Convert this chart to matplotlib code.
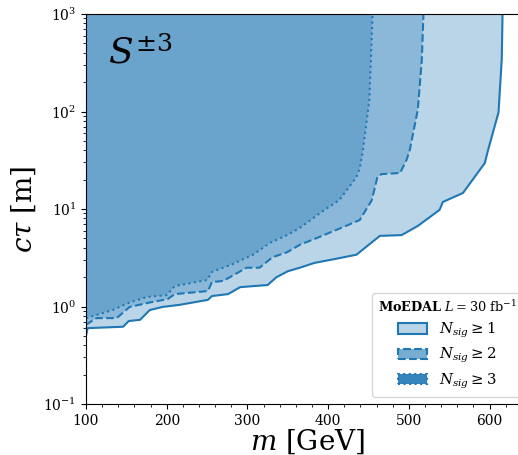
import numpy as np
import matplotlib
matplotlib.use('Agg')
import matplotlib.pyplot as plt
from matplotlib.patches import Patch

plt.rcParams['font.family'] = 'DejaVu Serif'
plt.rcParams['mathtext.fontset'] = 'dejavuserif'

# contour N_sig >= 1 (solid)
m1 = [100, 102, 146, 153, 167, 179, 195, 216, 251, 256, 276, 291, 325, 336, 350, 365,
      383, 411, 435, 464, 491, 511, 538, 542, 567, 594, 598, 611, 615, 616]
ct1 = [0.5, 0.6, 0.62, 0.71, 0.73, 0.92, 0.99, 1.04, 1.17, 1.28, 1.34, 1.58, 1.66, 2.0, 2.3, 2.5,
       2.8, 3.1, 3.4, 5.3, 5.4, 6.7, 9.8, 11.8, 14.6, 29.6, 40, 98, 340, 1000]

# contour N_sig >= 2 (dashed)
m2 = [100, 113, 138, 154, 179, 201, 210, 251, 256, 270, 299, 315, 331, 349, 365,
      390, 418, 439, 454, 461, 466, 489, 497, 501, 511, 516, 518]
ct2 = [0.65, 0.76, 0.76, 0.99, 1.1, 1.19, 1.34, 1.44, 1.78, 1.83, 2.5, 2.5, 3.2, 3.6, 4.3,
       5.2, 6.5, 7.7, 12.3, 21.3, 22.8, 23.4, 31.8, 40, 104, 340, 1000]

# contour N_sig >= 3 (dotted)
m3 = [100, 133, 154, 175, 200, 210, 250, 256, 282, 307, 328, 349, 365,
      390, 414, 435, 439, 441, 443, 451, 455]
ct3 = [0.76, 0.92, 1.1, 1.25, 1.31, 1.62, 1.87, 2.26, 2.73, 3.4, 4.5, 5.4, 6.4,
       9.1, 12.4, 21.3, 26, 32, 40, 130, 1000]

contours = [(m1, ct1, '-'), (m2, ct2, '--'), (m3, ct3, ':')]
labels = [r'$N_{sig} \geq 1$', r'$N_{sig} \geq 2$', r'$N_{sig} \geq 3$']

fig = plt.figure(figsize=(5.18, 4.55), dpi=100)
ax = fig.add_axes([86 / 518, 51 / 455, 444 / 518, 390 / 455])

for m, ct, ls in contours:
    xs = list(m) + [100]
    ys = list(ct) + [1000]
    ax.fill(xs, ys, color='tab:blue', alpha=0.3, lw=0)
    ax.plot(m, ct, color='tab:blue', ls=ls, lw=1.5)

ax.set_yscale('log')
ax.set_xlim(100, 650)
ax.set_ylim(0.1, 1000)
ax.set_xticks([100, 200, 300, 400, 500, 600])
ax.xaxis.set_minor_locator(matplotlib.ticker.MultipleLocator(20))
ax.tick_params(labelsize=10)

ax.set_xlabel(r'$m$ [GeV]', fontsize=20, labelpad=0)
ax.set_ylabel(r'$c\tau$ [m]', fontsize=20, labelpad=4)

ax.text(0.05, 0.945, r'$S^{\pm 3}$', transform=ax.transAxes, fontsize=26, va='top')

handles = [
    Patch(facecolor=(0.122, 0.467, 0.706, 0.3), edgecolor='tab:blue', ls='-', lw=1.5),
    Patch(facecolor=(0.122, 0.467, 0.706, 0.6), edgecolor='tab:blue', ls='--', lw=1.5),
    Patch(facecolor=(0.122, 0.467, 0.706, 0.9), edgecolor='tab:blue', ls=':', lw=1.5),
]
leg = ax.legend(handles, labels, loc='lower right', fontsize=10.7, labelspacing=0.4,
                title=r'$\bf{MoEDAL}$ $L = 30$ fb$^{-1}$', title_fontsize=9.3)

fig.savefig('out.png', dpi=100)
